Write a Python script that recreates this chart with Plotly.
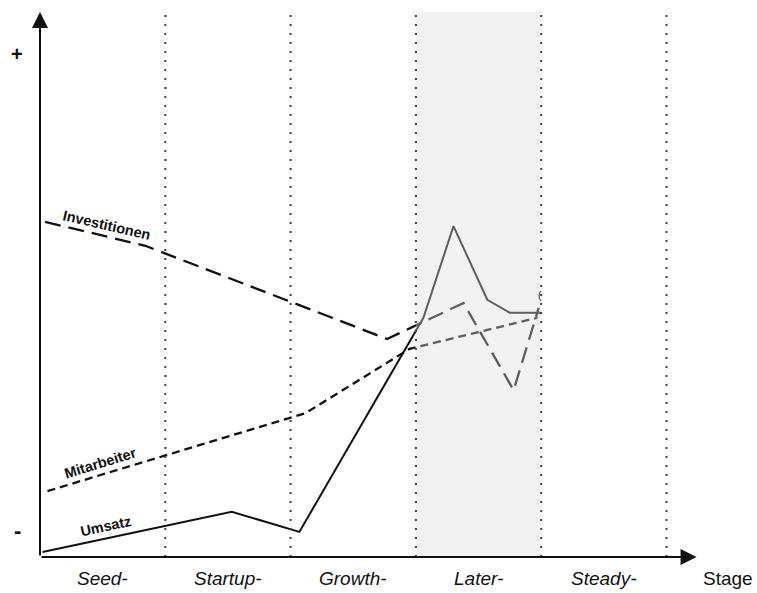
import plotly.graph_objects as go

# ---- data (x in stage units: 0 = origin, 1 stage per unit; y in relative units 0..100) ----
umsatz_x = [0.02, 1.0, 1.53, 2.07, 3.06, 3.3, 3.57, 3.75, 4.0]
umsatz_y = [0.9, 5.7, 8.3, 4.6, 43.9, 60.7, 47.2, 44.8, 44.8]

invest_x = [0.04, 0.84, 2.77, 3.38, 3.78, 3.98]
invest_y = [61.5, 57.1, 40.0, 46.6, 30.6, 45.7]

mitarb_x = [0.06, 2.12, 2.95, 3.97]
mitarb_y = [12.1, 26.4, 38.2, 43.9]

stage_labels = ["Seed-", "Startup-", "Growth-", "Later-", "Steady-"]
stage_centers = [0.5, 1.5, 2.5, 3.5, 4.5]
stage_bounds = [1, 2, 3, 4, 5]
axis_title = "Stage"
axis_title_x = 5.49
shade_range = [3, 4]

FONT = "Liberation Sans, Arial, sans-serif"

fig = go.Figure()

fig.add_trace(go.Scatter(x=invest_x, y=invest_y, mode="lines",
                         line=dict(color="#111111", width=2.3, dash="16px,8px")))
fig.add_trace(go.Scatter(x=mitarb_x, y=mitarb_y, mode="lines",
                         line=dict(color="#111111", width=2.3, dash="8px,5px")))
fig.add_trace(go.Scatter(x=umsatz_x, y=umsatz_y, mode="lines",
                         line=dict(color="#111111", width=2)))

# shaded "Later" stage drawn above lines with translucent grey -> lines turn grey inside
fig.add_shape(type="rect", x0=shade_range[0], x1=shade_range[1], y0=0, y1=100,
              xref="x", yref="y", layer="above", line=dict(width=0),
              fillcolor="rgba(221,221,221,0.38)")

for b in stage_bounds:
    fig.add_shape(type="line", x0=b, x1=b, y0=0, y1=100, xref="x", yref="y",
                  layer="above", line=dict(color="#444444", width=2, dash="2px,7px"))

# axes with arrows
fig.add_annotation(x=0, y=100, ax=0, ay=0, xref="x", yref="y", axref="x", ayref="y",
                   text="", showarrow=True, arrowhead=2, arrowsize=1.6, arrowwidth=2,
                   arrowcolor="#111111")
fig.add_annotation(x=5.24, y=0, ax=0, ay=0, xref="x", yref="y", axref="x", ayref="y",
                   text="", showarrow=True, arrowhead=2, arrowsize=1.6, arrowwidth=2,
                   arrowcolor="#111111")

# + / - markers
fig.add_annotation(x=-0.184, y=92.3, text="<b>+</b>", showarrow=False,
                   font=dict(family=FONT, size=20, color="#111111"))
fig.add_annotation(x=-0.176, y=4.8, text="<b>-</b>", showarrow=False,
                   font=dict(family=FONT, size=22, color="#111111"))

# line labels
fig.add_annotation(x=0.53, y=60.9, text="<b>Investitionen</b>", showarrow=False,
                   textangle=13, font=dict(family=FONT, size=14.5, color="#111111"))
fig.add_annotation(x=0.48, y=17.3, text="<b>Mitarbeiter</b>", showarrow=False,
                   textangle=-17, font=dict(family=FONT, size=14.5, color="#111111"))
fig.add_annotation(x=0.53, y=5.7, text="<b>Umsatz</b>", showarrow=False,
                   textangle=-12, font=dict(family=FONT, size=14.5, color="#111111"))
fig.add_annotation(x=3.99, y=47.9, text="(", showarrow=False,
                   font=dict(family=FONT, size=10, color="#111111"))

# stage labels
for lbl, cx in zip(stage_labels, stage_centers):
    fig.add_annotation(x=cx, y=-3.9, text="<i>" + lbl + "</i>", showarrow=False,
                       font=dict(family=FONT, size=19, color="#111111"))
fig.add_annotation(x=axis_title_x, y=-3.9, text=axis_title, showarrow=False,
                   font=dict(family=FONT, size=19, color="#111111"))

fig.update_layout(
    width=757, height=593,
    margin=dict(l=0, r=0, t=0, b=0),
    paper_bgcolor="white", plot_bgcolor="white",
    showlegend=False,
    hovermode=False,
    xaxis=dict(range=[-0.3192, 5.7223], visible=False, fixedrange=True),
    yaxis=dict(range=[-6.606, 102.2], visible=False, fixedrange=True),
)

fig.write_html("out.html", config={"displayModeBar": False, "staticPlot": True},
               post_script="document.body.style.margin='0';document.body.style.overflow='hidden';")
